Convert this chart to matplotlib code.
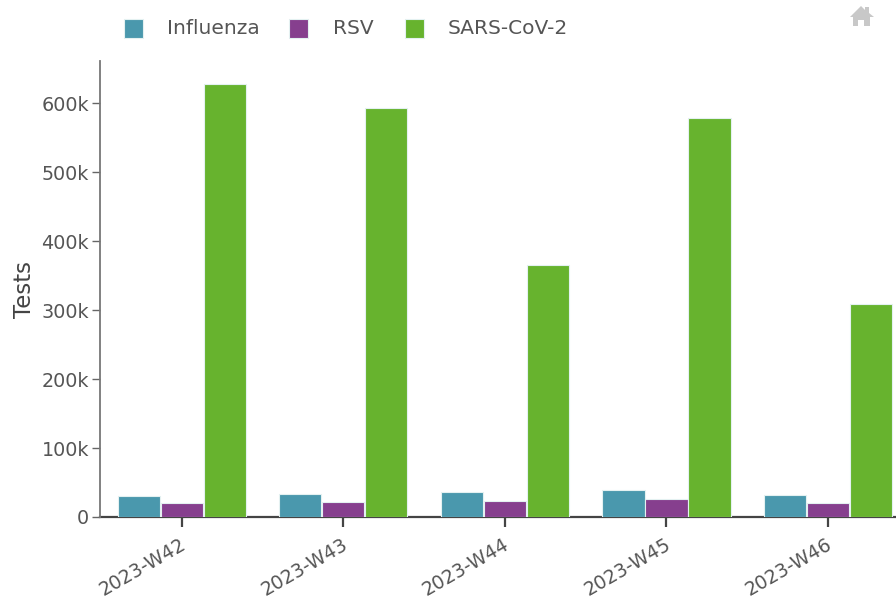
#!/usr/bin/env python3
"""Weekly tests per pathogen, grouped bars."""
import matplotlib

matplotlib.use("Agg")
import matplotlib.pyplot as plt
import numpy as np
from matplotlib.patches import Polygon
from matplotlib.ticker import FuncFormatter
from matplotlib.transforms import ScaledTranslation

weeks = ["2023-W42", "2023-W43", "2023-W44", "2023-W45", "2023-W46"]
influenza = [30000, 33000, 36000, 39000, 32000]
rsv = [20000, 22000, 23000, 26000, 20000]
sars_cov_2 = [627000, 593000, 365000, 578000, 308000]

FLU_COLOR = "#4a98ad"
RSV_COLOR = "#863f8e"
SARS_COLOR = "#67b32e"
TEXT_COLOR = "#555555"
EDGE_COLOR = "#e4f1f1"
W, H = 896, 600

plt.rcParams["font.family"] = ["DejaVu Sans"]
fig = plt.figure(figsize=(W / 100, H / 100), dpi=100)
ax = fig.add_axes([100 / W, 1 - 517 / H, 796 / W, 456 / H])

x = np.arange(len(weeks))
width = 0.266
series = [("Influenza", influenza, FLU_COLOR),
          ("RSV", rsv, RSV_COLOR),
          ("SARS-CoV-2", sars_cov_2, SARS_COLOR)]
for i, (name, vals, color) in enumerate(series):
    ax.bar(x + (i - 1) * width, vals, width * 0.98, color=color,
           edgecolor=EDGE_COLOR, linewidth=0.8, label=name, zorder=3)

ax.set_xlim(-0.505, 4.42)
ax.set_ylim(0, 660870)
ax.spines["top"].set_visible(False)
ax.spines["right"].set_visible(False)
ax.spines["left"].set_color("#777777")
ax.spines["left"].set_linewidth(1.3)
ax.spines["bottom"].set_color("#444444")
ax.spines["bottom"].set_linewidth(1.6)
ax.spines["bottom"].set_zorder(1)

ax.set_yticks(np.arange(0, 600001, 100000))
ax.yaxis.set_major_formatter(
    FuncFormatter(lambda v, _: "0" if v == 0 else f"{v / 1000:.0f}k"))
ax.tick_params(axis="y", length=6, width=1, color="#666666",
               labelsize=13.8, labelcolor=TEXT_COLOR, pad=2)
ax.set_xticks(x)
ax.set_xticklabels(weeks, rotation=30, ha="right", rotation_mode="anchor")
ax.tick_params(axis="x", length=7, width=1.6, color="#444444",
               labelsize=13.6, labelcolor=TEXT_COLOR, pad=6)
# nudge the week labels a little left, they sit just inside the bottom edge
nudge = ScaledTranslation(-2 / 100, 0, fig.dpi_scale_trans)
for tick_label in ax.get_xticklabels():
    tick_label.set_transform(tick_label.get_transform() + nudge)
ax.set_ylabel("Tests", fontsize=16.5, color="#444444", labelpad=4)

# legend row across the top
legend_items = [(124, 167, "Influenza", FLU_COLOR),
                (289, 333, "RSV", RSV_COLOR),
                (405, 448, "SARS-CoV-2", SARS_COLOR)]
for box_x, text_x, label, color in legend_items:
    fig.patches.append(plt.Rectangle((box_x / W, 1 - 38 / H), 19 / W, 19 / H,
                                     transform=fig.transFigure, facecolor=color,
                                     edgecolor=EDGE_COLOR, linewidth=0.8))
    fig.text(text_x / W, 1 - 29 / H, label, fontsize=14.5, color=TEXT_COLOR,
             va="center", ha="left")

# home button, top right
house = [(850, 17), (861, 6), (865, 10), (865, 7), (869, 7), (869, 13), (874, 17),
         (870, 17), (870, 26), (864, 26), (864, 20), (858, 20), (858, 26),
         (853, 26), (853, 17)]
fig.patches.append(Polygon([(px / W, 1 - py / H) for px, py in house],
                           closed=True, transform=fig.transFigure,
                           facecolor="#c8c8c8", edgecolor="none"))

fig.savefig("out.png", dpi=100)
plt.close(fig)
